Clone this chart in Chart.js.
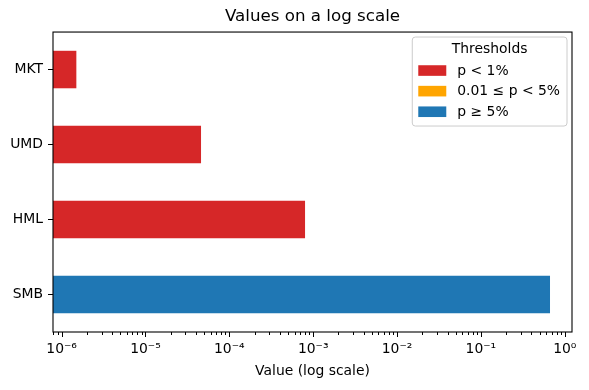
<!DOCTYPE html>
<html><head><meta charset="utf-8">
<script src="https://cdn.jsdelivr.net/npm/chart.js@4/dist/chart.umd.min.js"></script>
<style>html,body{margin:0;padding:0;background:#fff}#wrap{width:589px;height:390px}</style>
</head><body><div id="wrap"><canvas id="c" width="589" height="390"></canvas></div>
<script>
const categories = ['MKT', 'UMD', 'HML', 'SMB'];
const values = [1.5e-6, 4.6e-5, 8.0e-4, 0.667];
const thresholdLabels = ['p < 1%', '0.01 ≤ p < 5%', 'p ≥ 5%'];
const thresholdColors = ['#d62728', '#ffa500', '#1f77b4'];
const thresholdCuts = [0.01, 0.05];
const majorTicks = [1e-6, 1e-5, 1e-4, 1e-3, 1e-2, 1e-1, 1];
const majorTickLabels = ['10⁻⁶', '10⁻⁵', '10⁻⁴', '10⁻³', '10⁻²', '10⁻¹', '10⁰'];
const axisMin = 7.9e-7, axisMax = 1.22;
const titleText = 'Values on a log scale';
const xTitle = 'Value (log scale)';
const legendTitle = 'Thresholds';

const FONT = '"DejaVu Sans", sans-serif';
const FS = 13.9;
Chart.defaults.font.family = FONT;
Chart.defaults.color = '#000';

const barColors = values.map(v => v < thresholdCuts[0] ? thresholdColors[0] : (v < thresholdCuts[1] ? thresholdColors[1] : thresholdColors[2]));

// all log tick positions (majors + minors) inside the axis range
const allTicks = [];
for (let e = -7; e <= 0; e++) {
  for (let m = 1; m <= 9; m++) {
    const v = m * Math.pow(10, e);
    if (v >= axisMin && v <= axisMax) allTicks.push({ value: v, major: m === 1 });
  }
}
function majorIndex(v) {
  return majorTicks.findIndex(t => Math.abs(Math.log10(t) - Math.log10(v)) < 1e-6);
}

const framePlugin = {
  id: 'frame',
  afterDatasetsDraw(chart) {
    const { ctx, chartArea: a } = chart;
    ctx.save();
    ctx.strokeStyle = '#000';
    ctx.lineWidth = 1.1;
    ctx.strokeRect(a.left, a.top, a.right - a.left, a.bottom - a.top);
    // x tick marks
    const xs = chart.scales.x;
    ctx.lineWidth = 1;
    allTicks.forEach(t => {
      const x = Math.round(xs.getPixelForValue(t.value)) + 0.5;
      ctx.beginPath();
      ctx.moveTo(x, a.bottom);
      ctx.lineTo(x, a.bottom + (t.major ? 5 : 3));
      ctx.stroke();
    });
    ctx.restore();
  }
};

const legendPlugin = {
  id: 'innerLegend',
  afterDraw(chart) {
    const { ctx, chartArea: a } = chart;
    ctx.save();
    ctx.font = FS + 'px ' + FONT;
    const textW = Math.max(...thresholdLabels.map(l => ctx.measureText(l).width));
    const titleW = ctx.measureText(legendTitle).width;
    const textOff = 45;
    const w = Math.max(textW + textOff + 7, titleW + 14);
    const h = 89;
    const right = a.right - 5, top = a.top + 5;
    const left = right - w;
    const r = 3;
    ctx.beginPath();
    ctx.moveTo(left + r, top);
    ctx.lineTo(right - r, top);
    ctx.quadraticCurveTo(right, top, right, top + r);
    ctx.lineTo(right, top + h - r);
    ctx.quadraticCurveTo(right, top + h, right - r, top + h);
    ctx.lineTo(left + r, top + h);
    ctx.quadraticCurveTo(left, top + h, left, top + h - r);
    ctx.lineTo(left, top + r);
    ctx.quadraticCurveTo(left, top, left + r, top);
    ctx.closePath();
    ctx.fillStyle = 'rgba(255,255,255,0.8)';
    ctx.fill();
    ctx.strokeStyle = '#cccccc';
    ctx.lineWidth = 1;
    ctx.stroke();
    ctx.fillStyle = '#000';
    ctx.textBaseline = 'middle';
    ctx.textAlign = 'center';
    ctx.fillText(legendTitle, left + w / 2, top + 12.5);
    ctx.textAlign = 'left';
    thresholdLabels.forEach((lab, i) => {
      const cy = top + 33.5 + i * 20.6;
      ctx.fillStyle = thresholdColors[i];
      ctx.fillRect(left + 6, cy - 5.3, 28, 10.6);
      ctx.fillStyle = '#000';
      ctx.fillText(lab, left + textOff, cy + 0.5);
    });
    ctx.restore();
  }
};

new Chart(document.getElementById('c'), {
  type: 'bar',
  data: {
    labels: categories,
    datasets: [{
      label: 'Value',
      data: values,
      backgroundColor: barColors,
      borderWidth: 0,
      barPercentage: 0.5,
      categoryPercentage: 1.0
    }]
  },
  plugins: [framePlugin, legendPlugin],
  options: {
    indexAxis: 'y',
    responsive: false,
    animation: false,
    devicePixelRatio: 1,
    layout: { padding: { left: 0, right: 17, top: 0, bottom: 0 } },
    plugins: {
      legend: { display: false },
      tooltip: { enabled: false },
      title: {
        display: true, text: titleText, fullSize: false, color: '#000',
        font: { size: 16.7, weight: 'normal', family: FONT },
        padding: { top: 7, bottom: 5 }
      }
    },
    scales: {
      x: {
        type: 'logarithmic',
        min: axisMin, max: axisMax,
        afterBuildTicks: s => { s.ticks = allTicks.map(t => ({ value: t.value, major: t.major })); },
        afterFit: s => { s.height = 58; },
        ticks: {
          autoSkip: false, maxRotation: 0, minRotation: 0, padding: 9, color: '#000',
          font: { size: FS, family: FONT },
          callback: v => { const i = majorIndex(v); return i >= 0 ? majorTickLabels[i] : ''; }
        },
        grid: { display: false, drawTicks: false },
        border: { display: false },
        title: {
          display: true, text: xTitle, color: '#000',
          font: { size: FS, family: FONT }, padding: { top: 0, bottom: 10 }
        }
      },
      y: {
        type: 'category',
        afterFit: s => { s.width = 53; },
        grid: { display: true, offset: false, drawOnChartArea: false, drawTicks: true, tickLength: 5, tickColor: '#000', tickWidth: 1 },
        border: { display: false },
        ticks: { color: '#000', padding: 5, font: { size: FS, family: FONT } }
      }
    }
  }
});
</script>
</body></html>
